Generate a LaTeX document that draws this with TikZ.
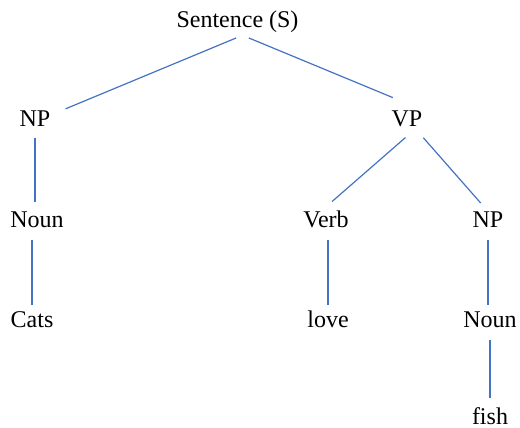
\documentclass[tikz,border=0pt]{standalone}
\usepackage{fontspec}
\setmainfont{Liberation Serif}
\usepackage{tikz}
\usetikzlibrary{calc}
\definecolor{treeblue}{RGB}{68,114,196}
\tikzset{
  word/.style   ={font=\fontsize{24}{29}\selectfont,anchor=base,text height=17pt,text depth=6pt,inner sep=3pt},
  branch/.style ={line width=1.2pt,treeblue,shorten <=2pt,shorten >=4pt},
}

\begin{document}
\begin{tikzpicture}[x=1pt,y=-1pt]
      \useasboundingbox (0,0) rectangle (520,428);
      \node[word] (S) at (237.5,28) {Sentence (S)};
      \node[word] (NPa) at (35,127) {NP};
      \node[word] (VP) at (407,127) {VP};
      \node[word] (Nouna) at (37,227) {Noun};
      \node[word] (Verb) at (326,227) {Verb};
      \node[word] (NPb) at (488,227) {NP};
      \node[word] (Cats) at (32,327) {Cats};
      \node[word] (love) at (328,327) {love};
      \node[word] (Nounb) at (490,327) {Noun};
      \node[word] (fish) at (490,424) {fish};
      % top level split
      \draw[branch,shorten >=13pt] ([xshift=0.5pt]S.south) -- (NPa);
      \draw[branch,shorten >=24pt] ([xshift=9.5pt]S.south) -- ([xshift=8pt]VP.north);
      \draw[branch,shorten >=8pt] (VP.south) -- (Verb.north);
      \draw[branch,shorten >=5pt] ([xshift=15pt]VP.south) -- ([xshift=-4pt]NPb.north);
      % single-child chains
      \draw[branch,shorten >=5pt] (NPa.south) -- (NPa.south |- Nouna.north);
      \draw[branch,shorten <=4pt,shorten >=2pt] (Cats.north |- Nouna.south) -- (Cats.north);
      \draw[branch,shorten <=4pt,shorten >=2pt] (love.north |- Verb.south) -- (love.north);
      \draw[branch,shorten <=4pt,shorten >=2pt] (NPb.south) -- (NPb.south |- Nounb.north);
      \draw[branch,shorten <=4pt,shorten >=6pt] (fish.north |- Nounb.south) -- (fish.north);
    \end{tikzpicture}
\end{document}
